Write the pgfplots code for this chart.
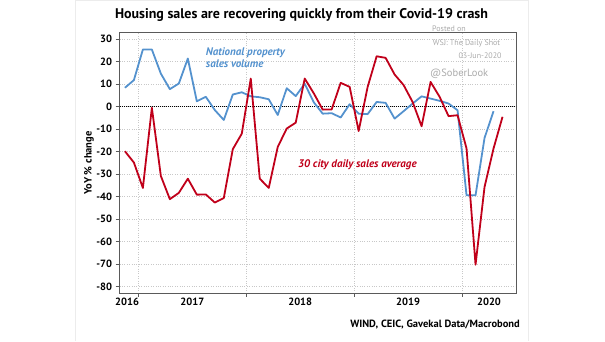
\documentclass[border=0pt]{standalone}
\usepackage{pgfplots}
\pgfplotsset{compat=1.18}
\usepackage{fontspec}
\setmainfont{PT Sans}
\definecolor{natblue}{RGB}{84,146,206}
\definecolor{cityred}{RGB}{192,0,26}
\definecolor{gridgray}{RGB}{200,200,200}
\definecolor{framegray}{RGB}{90,90,90}
\definecolor{wmgray}{RGB}{170,170,170}
\begin{document}
\begin{tikzpicture}[x=1pt,y=1pt]
\path (0,0) rectangle (605,341);
\draw[gray!15, line width=0.6pt] (75,0) -- (75,340.5) -- (528,340.5) -- (528,0);
\begin{axis}[
  at={(119.5pt,48pt)}, anchor=south west,
  scale only axis, width=396.5pt, height=261pt,
  xmin=-2.1, xmax=42, ymin=-82.8, ymax=33.2,
  axis line style={draw=framegray, line width=0.9pt},
  xtick={0,12,24,36}, xticklabels={},
  extra x ticks={-1.25,6,18,30,39},
  extra x tick labels={2016,2017,2018,2019,2020},
  extra x tick style={grid=none, major tick length=0pt},
  ytick={-80,-70,-60,-50,-40,-30,-20,-10,0,10,20,30},
  yticklabels={-80,-70,-60,-50,-40,-30,-20,-10,0,10,20,30},
  xmajorgrids, ymajorgrids,
  major grid style={gridgray, dotted, line width=0.8pt},
  tick align=outside, major tick length=4pt,
  tick style={framegray, line width=0.8pt},
  xtick pos=bottom, ytick pos=left,
  tick label style={font=\fontsize{10.5}{12}\selectfont\bfseries, text=black},
  xticklabel style={yshift=-1pt},
]
\addplot[black, densely dotted, line width=1pt, forget plot] coordinates {(-2.1,0) (42,0)};
\addplot[natblue, line width=1.8pt, line join=round] coordinates {
(-1.5,8.4) (-0.5,11.8) (0.5,25.4) (1.5,25.4) (2.5,14.7) (3.5,7.8) (4.5,10.3) (5.5,21.4)
(6.5,2.4) (7.5,4.4) (8.5,-1.5) (9.5,-5.9) (10.5,5.4) (11.5,6.4) (12.5,4.6) (13.5,4.2)
(14.5,3.3) (15.5,-3.7) (16.5,8.2) (17.5,4.7) (18.5,10.2) (19.5,2.0) (20.5,-3.1) (21.5,-2.9)
(22.5,-4.8) (23.5,1.1) (24.5,-3.1) (25.5,-3.3) (26.5,2.1) (27.5,1.7) (28.5,-5.3) (29.5,-2.0)
(30.5,1.4) (31.5,4.6) (32.5,3.6) (33.5,2.6) (34.5,1.4) (35.5,-1.6) (36.5,-39.4) (37.5,-39.4)
(38.5,-13.9) (39.5,-2.0)
};
\addplot[cityred, line width=1.8pt, line join=round] coordinates {
(-1.5,-19.8) (-0.5,-24.8) (0.5,-36.1) (1.5,-0.5) (2.5,-30.8) (3.5,-41.1) (4.5,-38.3) (5.5,-32.0)
(6.5,-39.1) (7.5,-39.0) (8.5,-42.6) (9.5,-40.6) (10.5,-18.9) (11.5,-12.0) (12.5,12.5) (13.5,-32.0)
(14.5,-36.1) (15.5,-17.9) (16.5,-9.7) (17.5,-7.1) (18.5,12.5) (19.5,6.0) (20.5,-1.3) (21.5,-1.2)
(22.5,10.6) (23.5,8.8) (24.5,-10.8) (25.5,8.8) (26.5,22.4) (27.5,21.7) (28.5,14.3) (29.5,9.6)
(30.5,2.1) (31.5,-8.7) (32.5,11.0) (33.5,4.4) (34.5,-4.2) (35.5,-3.8) (36.5,-18.6) (37.5,-70.2)
(38.5,-35.7) (39.5,-18.6) (40.5,-4.5)
};
\end{axis}
% title
\node[anchor=base, font=\fontsize{14}{16}\selectfont\bfseries] at (301.5,322.7)
  {Housing sales are recovering quickly from their Covid-19 crash};
% y label
\node[rotate=90, font=\fontsize{10.5}{12}\selectfont\bfseries] at (89,178) {YoY \% change};
% annotations
\node[anchor=base west, inner sep=0pt, text=natblue, font=\fontsize{11}{12}\selectfont\bfseries\itshape] at (205.7,285) {National property};
\node[anchor=base west, inner sep=0pt, text=natblue, font=\fontsize{11}{12}\selectfont\bfseries\itshape] at (205.7,273.3) {sales volume};
\node[anchor=base west, inner sep=0pt, text=cityred, font=\fontsize{11}{12}\selectfont\bfseries\itshape] at (298,173) {30 city daily sales average};
% watermark
\node[anchor=base west, inner sep=0pt, text=wmgray, font=\fontsize{8}{9}\selectfont] at (432,309) {Posted on};
\node[anchor=base west, inner sep=0pt, text=wmgray, font=\fontsize{8}{9}\selectfont] at (432.7,295) {WSJ: The Daily Shot};
\node[anchor=base east, inner sep=0pt, text=wmgray, font=\fontsize{8}{9}\selectfont] at (501.7,282) {03-Jun-2020};
\node[anchor=base west, inner sep=0pt, text=wmgray, font=\fontsize{10.5}{12}\selectfont] at (430,264) {@SoberLook};
% source
\node[anchor=base east, inner sep=0pt, font=\fontsize{10.5}{12}\selectfont\bfseries] at (520,13) {WIND, CEIC, Gavekal Data/Macrobond};
\end{tikzpicture}
\end{document}
